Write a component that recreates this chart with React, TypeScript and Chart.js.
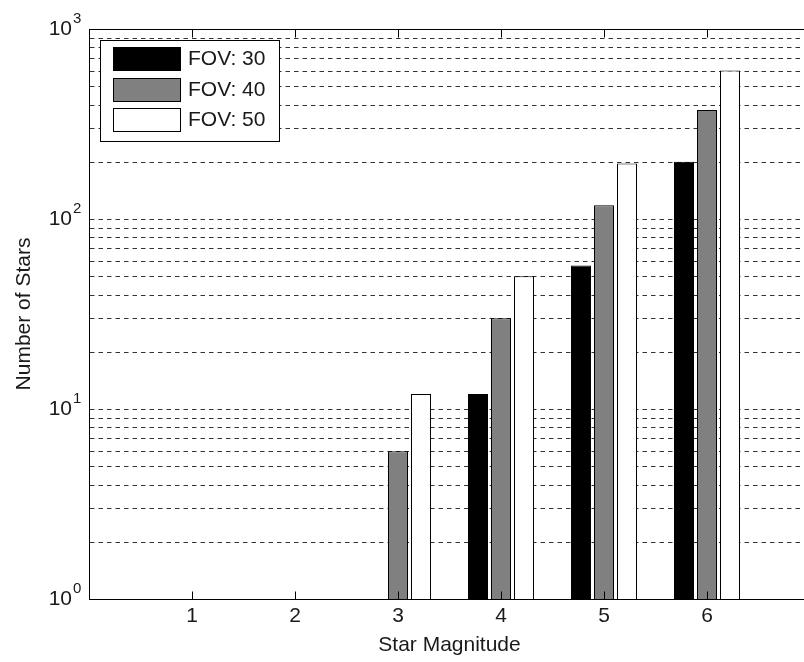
import { useEffect, useRef } from 'react';
import { Chart, registerables } from 'chart.js';

Chart.register(...registerables);

// ---- data ----
const magnitudes = [1, 2, 3, 4, 5, 6];
const fov30 = [null, null, null, 12, 57, 200];
const fov40 = [null, null, 6, 30, 118, 375];
const fov50 = [null, null, 12, 50, 196, 604];
const seriesLabels = ['FOV: 30', 'FOV: 40', 'FOV: 50'];
const seriesColors = ['#000000', '#808080', '#ffffff'];
const xTickLabels = ['1', '2', '3', '4', '5', '6'];
const yMajorTicks = [1, 10, 100, 1000];
const yMajorExponents = ['0', '1', '2', '3'];
const yMinorSignificands = [2, 3, 4, 5, 6, 7, 8, 9];
const xMin = 0;
const xMax = 7;
const yMin = 1;
const yMax = 1000;

const FONT = 'Liberation Sans, Arial, sans-serif';
const TEXT_COLOR = '#1a1a1a';

const toPoints = (vals: (number | null)[]) =>
  magnitudes
    .map((m, i) => ({ x: m, y: vals[i] }))
    .filter((p) => p.y !== null);

const matlabPlugin = {
  id: 'matlabAxes',
  beforeDatasetsDraw(chart: any) {
    const { ctx, chartArea: a, scales } = chart;
    const y = scales.y;
    ctx.save();
    ctx.strokeStyle = '#333333';
    ctx.lineWidth = 1;
    ctx.setLineDash([4.5, 4]);
    y.ticks.forEach((t: any) => {
      if (t.value <= yMin || t.value >= yMax) return;
      const py = Math.round(y.getPixelForValue(t.value)) + 0.5;
      ctx.beginPath();
      ctx.moveTo(a.left + 1, py);
      ctx.lineTo(a.right, py);
      ctx.stroke();
    });
    ctx.restore();
  },
  afterDatasetsDraw(chart: any) {
    const { ctx, chartArea: a, scales } = chart;
    const x = scales.x;
    const y = scales.y;
    ctx.save();
    ctx.setLineDash([]);
    ctx.strokeStyle = '#000000';
    ctx.lineWidth = 1;
    const L = Math.round(a.left) + 0.5;
    const R = Math.round(a.right) + 0.5;
    const T = Math.round(a.top) + 0.5;
    const B = Math.round(a.bottom) + 0.5;
    ctx.strokeRect(L, T, R - L, B - T);
    magnitudes.forEach((m) => {
      const px = Math.round(x.getPixelForValue(m)) + 0.5;
      ctx.beginPath();
      ctx.moveTo(px, B);
      ctx.lineTo(px, B - 8);
      ctx.moveTo(px, T);
      ctx.lineTo(px, T + 8);
      ctx.stroke();
    });
    ctx.fillStyle = TEXT_COLOR;
    yMajorTicks.forEach((v, i) => {
      const py = y.getPixelForValue(v);
      ctx.font = `21px ${FONT}`;
      ctx.textAlign = 'right';
      ctx.textBaseline = 'middle';
      ctx.fillText('10', 72, py);
      ctx.font = `15px ${FONT}`;
      ctx.textAlign = 'left';
      ctx.fillText(yMajorExponents[i], 73, py - 10);
    });
    const lx = Math.round(a.left) + 11;
    const ly = Math.round(a.top) + 11;
    const lw = 179;
    const lh = 101;
    ctx.fillStyle = '#ffffff';
    ctx.fillRect(lx, ly, lw, lh);
    ctx.strokeStyle = '#000000';
    ctx.strokeRect(lx + 0.5, ly + 0.5, lw, lh);
    chart.data.datasets.forEach((ds: any, i: number) => {
      const sy = Math.round(ly + 7 + i * 30.5);
      const sx = lx + 13;
      ctx.fillStyle = ds.backgroundColor;
      ctx.fillRect(sx, sy, 68, 24);
      ctx.strokeStyle = '#000000';
      ctx.strokeRect(sx + 0.5, sy + 0.5, 67, 23);
      ctx.fillStyle = TEXT_COLOR;
      ctx.font = `21px ${FONT}`;
      ctx.textAlign = 'left';
      ctx.textBaseline = 'middle';
      ctx.fillText(ds.label, sx + 75, sy + 12.5);
    });
    ctx.restore();
  },
};

export default function App() {
  const ref = useRef<HTMLCanvasElement | null>(null);

  useEffect(() => {
    if (!ref.current) return;
    const datasets = [fov30, fov40, fov50].map((vals, i) => ({
      label: seriesLabels[i],
      data: toPoints(vals),
      backgroundColor: seriesColors[i],
      borderColor: '#000000',
      borderWidth: 1,
      borderSkipped: 'start',
      categoryPercentage: 0.67,
      barPercentage: 0.87,
    }));
    const chart = new Chart(ref.current, {
      type: 'bar',
      data: { datasets } as any,
      options: {
        responsive: false,
        animation: false,
        events: [],
        layout: { padding: { top: 29, left: 0, right: 2, bottom: 0 } },
        plugins: {
          legend: { display: false },
          tooltip: { enabled: false },
          title: { display: false },
        },
        scales: {
          x: {
            type: 'linear',
            min: xMin,
            max: xMax,
            offset: false,
            grid: { display: false, drawTicks: false },
            border: { display: false },
            afterFit: (s: any) => {
              s.height = 63;
            },
            afterBuildTicks: (s: any) => {
              const t = [];
              for (let v = xMin; v <= xMax; v++) t.push({ value: v });
              s.ticks = t;
            },
            ticks: {
              padding: 5,
              color: TEXT_COLOR,
              font: { family: FONT, size: 21 },
              maxRotation: 0,
              autoSkip: false,
              callback: (v: any) => {
                const idx = magnitudes.indexOf(Number(v));
                return idx >= 0 ? xTickLabels[idx] : '';
              },
            },
            title: {
              display: true,
              text: 'Star Magnitude',
              color: TEXT_COLOR,
              font: { family: FONT, size: 21, lineHeight: 1.2 },
              padding: { top: 0, bottom: 4 },
            },
          },
          y: {
            type: 'logarithmic',
            min: yMin,
            max: yMax,
            grid: { display: false, drawTicks: false },
            border: { display: false },
            afterFit: (s: any) => {
              s.width = 89;
            },
            afterBuildTicks: (s: any) => {
              const t: any[] = [];
              yMajorTicks.forEach((m) => {
                t.push({ value: m, major: true });
                if (m < yMax) yMinorSignificands.forEach((k) => t.push({ value: k * m }));
              });
              s.ticks = t;
            },
            ticks: { display: false },
            title: {
              display: true,
              text: 'Number of Stars',
              color: TEXT_COLOR,
              font: { family: FONT, size: 21, lineHeight: 1.2 },
              padding: { top: 12, bottom: 0 },
            },
          },
        },
      } as any,
      plugins: [matlabPlugin],
    });
    return () => chart.destroy();
  }, []);

  return (
    <div
      style={{
        position: 'fixed',
        left: 0,
        top: 0,
        width: 804,
        height: 662,
        overflow: 'hidden',
        background: '#ffffff',
      }}
    >
      <canvas ref={ref} width={815} height={662} style={{ display: 'block' }} />
    </div>
  );
}
